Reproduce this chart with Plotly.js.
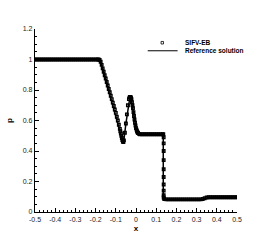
<!DOCTYPE html>
<html>
<head>
<meta charset="utf-8">
<script src="https://cdn.plot.ly/plotly-3.0.1.min.js"></script>
<style>html,body{margin:0;padding:0;background:#fff;}#chart{width:270px;height:240px;}</style>
</head>
<body>
<div id="chart"></div>
<script>
// SIFV-EB scheme (open squares)
var sifvX = [-0.50,-0.49,-0.48,-0.47,-0.46,-0.45,-0.44,-0.43,-0.42,-0.41,
  -0.40,-0.39,-0.38,-0.37,-0.36,-0.35,-0.34,-0.33,-0.32,-0.31,
  -0.30,-0.29,-0.28,-0.27,-0.26,-0.25,-0.24,-0.23,-0.22,-0.21,
  -0.20,-0.19,-0.185,-0.18,-0.175,-0.17,-0.165,-0.16,-0.155,-0.15,
  -0.145,-0.14,-0.135,-0.13,-0.125,-0.12,-0.115,-0.11,-0.105,-0.10,
  -0.095,-0.09,-0.085,-0.08,-0.0775,-0.075,-0.0725,-0.07,-0.0675,-0.065,
  -0.0625,-0.06,-0.055,-0.05,-0.045,-0.04,-0.035,-0.0325,-0.03,-0.0275,
  -0.025,-0.0225,-0.02,-0.0175,-0.015,-0.0125,-0.01,-0.0075,-0.005,-0.0025,
  0.0,0.0025,0.005,0.0075,0.01,0.015,0.02,0.03,0.04,0.05,
  0.06,0.07,0.08,0.09,0.10,0.11,0.12,0.13,0.135,0.137,
  0.137,0.137,0.137,0.137,0.137,0.137,0.137,0.137,0.137,0.14,
  0.15,0.16,0.17,0.18,0.19,0.20,0.21,0.22,0.23,0.24,
  0.25,0.26,0.27,0.28,0.29,0.30,0.31,0.32,0.33,0.34,
  0.35,0.36,0.37,0.38,0.39,0.40,0.41,0.42,0.43,0.44,
  0.45,0.46,0.47,0.48,0.49,0.50];
var sifvP = [1,1,1,1,1,1,1,1,1,1,
  1,1,1,1,1,1,1,1,1,1,
  1,1,1,1,1,1,1,1,1,1,
  1,1,1,0.997,0.985,0.965,0.942,0.92,0.897,0.875,
  0.852,0.83,0.807,0.785,0.762,0.74,0.717,0.695,0.672,0.65,
  0.625,0.60,0.572,0.545,0.53,0.515,0.50,0.485,0.472,0.462,
  0.458,0.47,0.52,0.58,0.64,0.70,0.74,0.75,0.755,0.755,
  0.75,0.74,0.72,0.70,0.68,0.655,0.63,0.607,0.585,0.567,
  0.55,0.54,0.53,0.523,0.518,0.512,0.51,0.51,0.51,0.51,
  0.51,0.51,0.51,0.51,0.51,0.51,0.51,0.51,0.51,0.49,
  0.45,0.40,0.34,0.28,0.23,0.18,0.14,0.11,0.095,0.085,
  0.083,0.083,0.083,0.083,0.083,0.083,0.083,0.083,0.083,0.083,
  0.083,0.083,0.083,0.083,0.083,0.083,0.083,0.083,0.085,0.09,
  0.095,0.097,0.097,0.097,0.097,0.097,0.097,0.097,0.097,0.097,
  0.097,0.097,0.097,0.097,0.097,0.097];

// Reference solution (solid line)
var refX = [-0.5,-0.18,-0.175,-0.07,-0.065,-0.06,-0.05,-0.03,-0.025,-0.01,0.0,0.01,0.02,0.135,0.135,0.33,0.36,0.5];
var refP = [1,1,0.985,0.485,0.46,0.47,0.58,0.755,0.75,0.63,0.55,0.518,0.51,0.51,0.083,0.083,0.097,0.097];

var xTickVals = [-0.5,-0.4,-0.3,-0.2,-0.1,0,0.1,0.2,0.3,0.4,0.5];
var xTickText = ['-0.5','-0.4','-0.3','-0.2','-0.1','0','0.1','0.2','0.3','0.4','0.5'];
var yTickVals = [0,0.2,0.4,0.6,0.8,1,1.2];
var yTickText = ['0','0.2','0.4','0.6','0.8','1','1.2'];

var seriesNames = ['SIFV-EB','Reference solution'];

var traces = [
  {x: refX, y: refP, mode: 'lines', name: seriesNames[1], line: {color: '#000', width: 1.5}, showlegend: false},
  {x: sifvX, y: sifvP, mode: 'markers', name: seriesNames[0],
   marker: {symbol: 'square-open', size: 2.5, color: '#000', line: {width: 1.4, color: '#000'}}, showlegend: false}
];

var tickFont = {family: 'Liberation Sans, Arial, sans-serif', size: 7, color: '#222'};
var layout = {
  width: 270, height: 240,
  margin: {l: 35, r: 33, t: 29, b: 28, pad: 0},
  paper_bgcolor: '#fff', plot_bgcolor: '#fff',
  showlegend: false,
  xaxis: {
    range: [-0.5, 0.5], tickmode: 'array', tickvals: xTickVals, ticktext: xTickText,
    ticks: 'inside', ticklen: 4, tickwidth: 1, tickcolor: '#000',
    minor: {ticks: 'inside', dtick: 0.02, ticklen: 2, tickwidth: 1, tickcolor: '#000', showgrid: false},
    showline: true, linecolor: '#000', linewidth: 1.2, mirror: false,
    showgrid: false, zeroline: false, tickfont: tickFont,
    title: {text: '<b>x</b>', font: {family: 'Liberation Sans, Arial, sans-serif', size: 8, color: '#000'}, standoff: 3}
  },
  yaxis: {
    range: [0, 1.2], tickmode: 'array', tickvals: yTickVals, ticktext: yTickText,
    ticks: 'inside', ticklen: 4, tickwidth: 1, tickcolor: '#000',
    minor: {ticks: 'inside', dtick: 0.05, ticklen: 2, tickwidth: 1, tickcolor: '#000', showgrid: false},
    showline: true, linecolor: '#000', linewidth: 1.2, mirror: false,
    showgrid: false, zeroline: false, tickfont: tickFont,
    title: {text: '<b>p</b>', font: {family: 'Liberation Sans, Arial, sans-serif', size: 8, color: '#000'}, standoff: 8}
  },
  shapes: [
    {type: 'rect', xref: 'paper', yref: 'paper', x0: 0.624, x1: 0.636, y0: 0.918, y1: 0.932,
     line: {color: '#000', width: 0.8}, fillcolor: 'rgba(0,0,0,0)'},
    {type: 'line', xref: 'paper', yref: 'paper', x0: 0.558, x1: 0.706, y0: 0.881, y1: 0.881,
     line: {color: '#000', width: 1}}
  ],
  annotations: [
    {xref: 'paper', yref: 'paper', x: 0.731, y: 0.925, xanchor: 'left', yanchor: 'middle', showarrow: false,
     text: '<b>' + seriesNames[0] + '</b>', font: {family: 'Liberation Sans, Arial, sans-serif', size: 6.5, color: '#000'}},
    {xref: 'paper', yref: 'paper', x: 0.731, y: 0.881, xanchor: 'left', yanchor: 'middle', showarrow: false,
     text: '<b>' + seriesNames[1] + '</b>', font: {family: 'Liberation Sans, Arial, sans-serif', size: 6.5, color: '#000'}}
  ]
};

Plotly.newPlot('chart', traces, layout, {staticPlot: true, displayModeBar: false});
</script>
</body>
</html>
